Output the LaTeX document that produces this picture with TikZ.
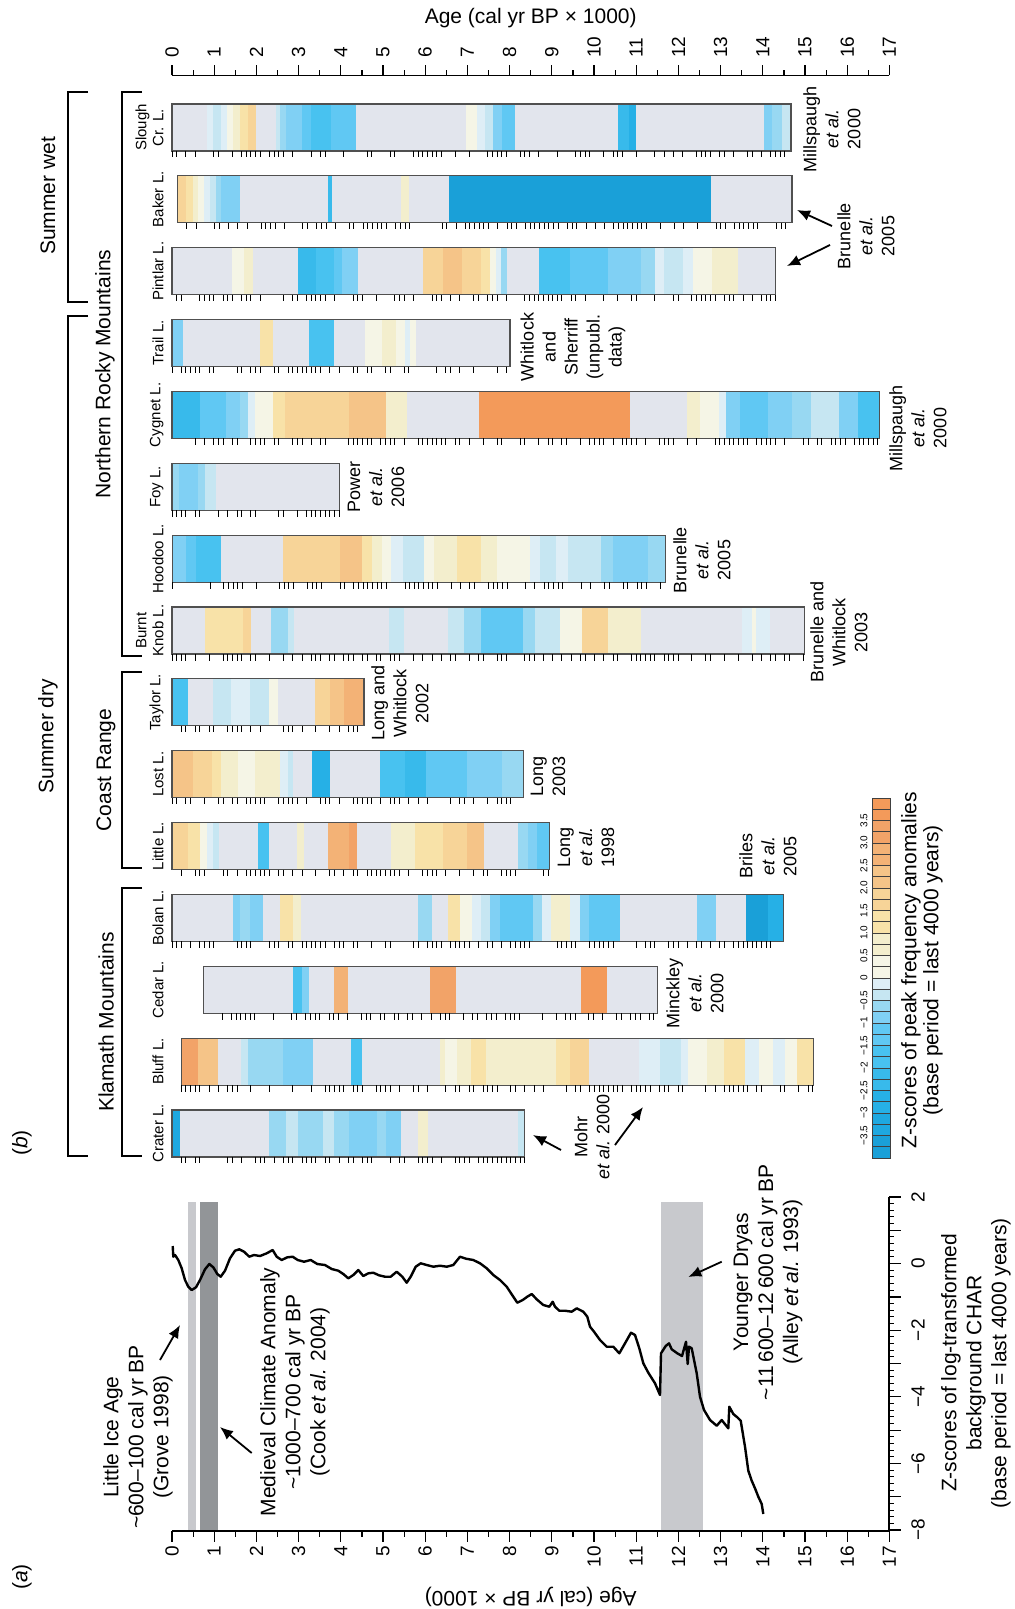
\documentclass[tikz,border=0pt]{standalone}
\usepackage{fontspec}
\setmainfont{Liberation Sans}
\usetikzlibrary{arrows.meta}
\definecolor{zg}{RGB}{226,229,237}
\definecolor{b8}{RGB}{26,160,216}
\definecolor{b7}{RGB}{30,168,224}
\definecolor{b6}{RGB}{38,176,230}
\definecolor{b5}{RGB}{56,186,235}
\definecolor{b4}{RGB}{72,194,240}
\definecolor{b3}{RGB}{96,200,243}
\definecolor{b2}{RGB}{128,208,244}
\definecolor{b1}{RGB}{152,216,242}
\definecolor{b0}{RGB}{198,230,242}
\definecolor{bw}{RGB}{222,238,246}
\definecolor{y0}{RGB}{245,245,230}
\definecolor{y1}{RGB}{243,238,205}
\definecolor{y2}{RGB}{248,226,168}
\definecolor{y3}{RGB}{247,212,152}
\definecolor{y4}{RGB}{245,196,136}
\definecolor{y5}{RGB}{243,178,118}
\definecolor{y6}{RGB}{242,163,104}
\definecolor{y7}{RGB}{243,154,90}
\definecolor{BandLight}{RGB}{200,201,205}
\definecolor{BandDark}{RGB}{146,149,152}
\definecolor{BarEdge}{RGB}{80,80,80}

% name, top (px), first age, last age, label, segments
\newcommand\lakebar[6]{%
  \fill[zg] (#3,#2) rectangle (#4,#2+47);
  \foreach \s/\e/\col in {#6} \fill[\col] (\s,#2) rectangle (\e,#2+47);
  \draw[BarEdge,line width=0.6pt] (#3,#2) rectangle (#4,#2+47);
  \pgfmathtruncatemacro\nk{(#4-#3)/0.11}
  \foreach \k in {0,...,\nk}{%
    \pgfmathsetmacro\rr{rnd}
    \ifdim\rr pt>0.4pt \draw[line width=0.45pt] ({#3+0.11*\k},#2+47) -- ++(0,6.5);\fi
  }
  \node[lakename] (#1) at (-0.19,#2+23.5) {#5};
}

\begin{document}
\begin{tikzpicture}[x=0.5pt,y=-0.5pt,>=Latex,
  lakename/.style={rotate=90,anchor=south,inner sep=0pt,align=center,font=\fontsize{7.5}{8.5}\selectfont},
  cite/.style={rotate=90,align=center,inner sep=0pt,font=\fontsize{9}{11}\selectfont},
  note/.style={rotate=90,align=center,inner sep=0pt,font=\fontsize{10.5}{12.5}\selectfont},
  group/.style={rotate=90,inner sep=0pt,font=\fontsize{10.5}{12.5}\selectfont},
  ticklab/.style={rotate=90,inner sep=0pt,font=\fontsize{9.5}{11}\selectfont},
  scalelab/.style={rotate=90,inner sep=0pt,font=\fontsize{5}{6}\selectfont},
  bracket/.style={line width=1.2pt},
  pointer/.style={-{Latex[length=6.5pt,width=5.5pt]},line width=0.9pt}]
\useasboundingbox (0,0) rectangle (1015,1609);
\pgfmathsetseed{11}

\begin{scope}[shift={(172,0)},x=21.1pt]
  % (b) age axis
  \node[font=\fontsize{10.5}{12}\selectfont] (agetop) at (8.5,18) {Age (cal yr BP × 1000)};
  \draw[line width=0.6pt] (0,75.5) -- (17,75.5);
  \foreach \i in {0,...,17}{
    \draw[line width=0.6pt] (\i,75.5) -- (\i,65.5);
    \node[ticklab,anchor=west] (top\i) at (\i,58) {\i};
  }
  \foreach \i in {0.5,1.5,...,16.5} \draw[line width=0.6pt] (\i,75.5) -- (\i,70.5);

  \lakebar{slough}{104}{0}{14.67}{Slough\\Cr. L.}{0.84/0.98/bw, 0.98/1.15/b0, 1.15/1.30/bw, 1.30/1.45/y0, 1.45/1.60/y1, 1.60/1.79/y2, 1.79/1.99/y3, 2.46/2.57/b0, 2.57/2.71/b1, 2.71/3.07/b2, 3.07/3.30/b3, 3.30/3.77/b4, 3.77/4.36/b3, 6.96/7.23/y0, 7.23/7.41/bw, 7.41/7.60/b0, 7.60/7.82/b2, 7.82/8.13/b3, 10.56/10.84/b5, 10.84/11.00/b6, 14.02/14.22/b2, 14.22/14.45/b1, 14.45/14.67/b0}
  \lakebar{baker}{175.9}{0.13}{14.69}{Baker L.}{0.13/0.33/y3, 0.33/0.50/y2, 0.50/0.61/y1, 0.61/0.75/y0, 0.75/0.89/bw, 0.89/1.04/b0, 1.04/1.15/b1, 1.15/1.62/b2, 3.70/3.79/b5, 5.42/5.62/y1, 6.56/12.77/b8}
  \lakebar{pintlar}{247.7}{0}{14.30}{Pintlar L.}{1.43/1.71/y0, 1.71/1.93/y1, 2.98/3.41/b5, 3.41/3.85/b4, 3.85/4.02/b3, 4.02/4.41/b2, 5.94/6.42/y3, 6.42/6.87/y4, 6.87/7.32/y3, 7.32/7.54/y2, 7.54/7.68/y0, 7.68/7.79/bw, 7.79/7.93/b1, 8.69/9.44/b4, 9.44/10.33/b3, 10.33/11.12/b2, 11.12/11.45/b1, 11.45/11.67/bw, 11.67/12.12/b0, 12.12/12.35/bw, 12.35/12.79/y0, 12.79/13.41/y1}
  \lakebar{trail}{319.6}{0}{8.01}{Trail L.}{0/0.25/b2, 2.08/2.40/y2, 3.25/3.83/b4, 4.57/4.97/y0, 4.97/5.31/y1, 5.31/5.53/y0, 5.53/5.64/bw, 5.64/5.78/y0}
  \lakebar{cygnet}{391.4}{0}{16.76}{Cygnet L.}{0/0.67/b5, 0.67/1.28/b3, 1.28/1.62/b2, 1.62/1.79/b1, 1.79/1.96/bw, 1.96/2.40/y0, 2.40/2.68/y2, 2.68/4.19/y3, 4.19/5.08/y4, 5.08/5.56/y1, 7.27/10.86/y7, 12.20/12.51/y1, 12.51/12.96/y0, 12.96/13.13/bw, 13.13/13.46/b2, 13.46/14.13/b3, 14.13/14.69/b2, 14.69/15.14/b1, 15.14/15.81/b0, 15.81/16.26/b2, 16.26/16.76/b4}
  \lakebar{foy}{463.3}{0}{3.97}{Foy L.}{0/0.17/b1, 0.17/0.61/b2, 0.61/0.78/b1, 0.78/1.04/b0}
  \lakebar{hoodoo}{535.1}{0.02}{11.70}{Hoodoo L.}{0.02/0.34/b2, 0.34/0.56/b3, 0.56/1.15/b4, 2.63/3.97/y3, 3.97/4.50/y4, 4.50/4.75/y2, 4.75/4.97/y1, 4.97/5.20/y0, 5.20/5.47/bw, 5.47/5.98/b0, 5.98/6.20/y0, 6.20/6.76/y1, 6.76/7.32/y2, 7.32/7.71/y1, 7.71/8.49/y0, 8.49/8.72/bw, 8.72/9.10/b0, 9.10/9.38/bw, 9.38/10.17/b0, 10.17/10.45/b1, 10.45/11.28/b2, 11.28/11.70/b1}
  \lakebar{burnt}{607}{0}{14.98}{Burnt\\Knob L.}{0.78/1.68/y2, 1.68/1.88/y3, 2.35/2.76/b1, 2.76/2.90/b0, 5.14/5.50/b0, 6.54/6.93/b0, 6.93/7.32/b1, 7.32/8.32/b3, 8.32/8.60/b1, 8.60/9.20/b0, 9.20/9.72/y0, 9.72/10.34/y3, 10.34/11.12/y1, 13.50/13.74/bw, 13.74/13.85/y0, 13.85/14.17/bw}
  \lakebar{taylor}{678.8}{0}{4.55}{Taylor L.}{0/0.39/b4, 0.98/1.40/b0, 1.40/1.84/bw, 1.84/2.29/b0, 2.29/2.51/y0, 3.39/3.74/y3, 3.74/4.08/y4, 4.08/4.55/y5}
  \lakebar{lost}{750.7}{0}{8.32}{Lost L.}{0/0.50/y4, 0.50/0.95/y3, 0.95/1.17/y2, 1.17/1.56/y1, 1.56/1.96/y0, 1.96/2.57/y1, 2.57/2.74/bw, 2.74/2.87/b0, 3.32/3.74/b6, 4.92/5.53/b4, 5.53/6.03/b5, 6.03/6.98/b3, 6.98/7.82/b2, 7.82/8.32/b1}
  \lakebar{little}{822.5}{0}{8.95}{Little L.}{0/0.39/y3, 0.39/0.67/y2, 0.67/0.84/y0, 0.84/0.97/bw, 0.97/1.12/b0, 2.04/2.29/b4, 2.96/3.13/y1, 3.69/4.19/y5, 4.19/4.38/y6, 5.20/5.75/y1, 5.75/6.42/y2, 6.42/6.98/y3, 6.98/7.39/y4, 8.21/8.44/b1, 8.44/8.66/b2, 8.66/8.95/b3}
  \lakebar{bolan}{894.4}{0}{14.49}{Bolan L.}{1.45/1.60/b2, 1.60/1.84/b1, 1.84/2.16/b2, 2.57/2.87/y2, 2.87/3.05/y1, 5.83/6.15/b1, 6.54/6.82/y2, 6.82/7.10/y0, 7.10/7.32/bw, 7.32/7.54/b0, 7.54/7.77/b2, 7.77/8.55/b3, 8.55/8.77/b1, 8.77/8.99/bw, 8.99/9.44/y1, 9.44/9.66/bw, 9.66/9.89/b2, 9.89/10.61/b3, 12.44/12.88/b2, 13.60/14.13/b8, 14.13/14.49/b6}
  \lakebar{cedar}{966.2}{0.75}{11.50}{Cedar L.}{2.87/3.07/b4, 3.07/3.25/b2, 3.84/4.17/y5, 6.11/6.74/y6, 9.69/10.31/y7}
  \lakebar{bluff}{1038.1}{0.22}{15.20}{Bluff L.}{0.22/0.61/y6, 0.61/1.08/y4, 1.64/1.79/b0, 1.79/2.63/b1, 2.63/3.33/b2, 4.25/4.50/b4, 6.34/6.48/y1, 6.48/6.76/y0, 6.76/7.09/y1, 7.09/7.43/y2, 7.43/9.10/y1, 9.10/9.44/y2, 9.44/9.89/y3, 11.07/11.56/bw, 11.56/12.07/b0, 12.07/12.23/bw, 12.23/12.68/y0, 12.68/13.07/y1, 13.07/13.58/y2, 13.58/13.91/bw, 13.91/14.25/y0, 14.25/14.53/bw, 14.53/14.80/y0, 14.80/15.20/y2}
  \lakebar{crater}{1109.9}{0}{8.36}{Crater L.}{0/0.19/b7, 2.31/2.71/b1, 2.71/2.98/b0, 2.98/3.58/b1, 3.58/3.85/b0, 3.85/4.19/b1, 4.19/4.86/b2, 4.86/5.08/b1, 5.08/5.42/b2, 5.83/6.07/y1, 8.20/8.36/b0}

  % (a) shaded periods and age axis
  \fill[BandLight] (0.37,1202) rectangle (0.57,1531);
  \fill[BandDark] (0.66,1202) rectangle (1.10,1531);
  \fill[BandLight] (11.59,1202) rectangle (12.58,1531);
  \draw[line width=0.6pt] (0,1531) -- (17,1531);
  \foreach \i in {0,...,17}{
    \draw[line width=0.6pt] (\i,1531) -- (\i,1542);
    \node[ticklab,anchor=east] (bot\i) at (\i,1546) {\i};
  }
  \foreach \i in {0.5,1.5,...,16.5} \draw[line width=0.6pt] (\i,1531) -- (\i,1537);
  \node[rotate=180,font=\fontsize{10.5}{12}\selectfont] (agebot) at (8.5,1597) {Age (cal yr BP × 1000)};
\end{scope}

% citations
\node[cite] (millspaughA) at (832,129) {Millspaugh\\\textit{et al.}\\2000};
\node[cite] (brunelleA) at (866,236) {Brunelle\\\textit{et al.}\\2005};
\coordinate (bakerTail) at (832,226);
\coordinate (bakerTip) at (797,210);
\coordinate (pintlarTail) at (830,245);
\coordinate (pintlarTip) at (787,266);
\draw[pointer] (bakerTail) -- (bakerTip);
\draw[pointer] (pintlarTail) -- (pintlarTip);
\node[cite] (whitlock) at (573,347) {Whitlock\\and\\Sherriff\\(unpubl.\\data)};
\node[cite] (millspaughB) at (918,428) {Millspaugh\\\textit{et al.}\\2000};
\node[cite] (power) at (376,487) {Power\\\textit{et al.}\\2006};
\node[cite] (brunelleB) at (702,560) {Brunelle\\\textit{et al.}\\2005};
\node[cite] (brunelleC) at (839,632) {Brunelle and\\Whitlock\\2003};
\node[cite] (longA) at (400,703) {Long and\\Whitlock\\2002};
\node[cite] (longB) at (548,776) {Long\\2003};
\node[cite] (longC) at (586,847) {Long\\\textit{et al.}\\1998};
\node[cite] (briles) at (768,856) {Briles\\\textit{et al.}\\2005};
\node[cite] (minckley) at (695,993) {Minckley\\\textit{et al.}\\2000};
\node[cite] (mohr) at (592,1137) {Mohr\\\textit{et al.} 2000};
\coordinate (mohrA) at (561,1150);
\coordinate (craterTip) at (533,1135);
\coordinate (mohrB) at (615,1145);
\coordinate (bluffTip) at (643,1107);
\draw[pointer] (mohrA) -- (craterTip);
\draw[pointer] (mohrB) -- (bluffTip);

% groups
\draw[bracket] (88,92) -- (68,92) -- (68,302) -- (88,302);
\node[group] (wet) at (48,196) {Summer wet};
\draw[bracket] (88,316) -- (68,316) -- (68,1156) -- (88,1156);
\node[group] (dry) at (48,736) {Summer dry};
\draw[bracket] (142,92) -- (122,92) -- (122,656) -- (142,656);
\node[group] (rocky) at (105,374) {Northern Rocky Mountains};
\draw[bracket] (142,672) -- (122,672) -- (122,868) -- (142,868);
\node[group] (coast) at (106,770) {Coast Range};
\draw[bracket] (142,888) -- (122,888) -- (122,1156) -- (142,1156);
\node[group] (klamath) at (106,1022) {Klamath Mountains};
\node[group] (panelb) at (22,1143) {(\textit{b})};

% colour scale
\foreach \col [count=\i from 0] in {b8,b8,b7,b7,b6,b6,b5,b5,b4,b4,b3,b3,b2,b1,b0,bw,y0,y0,y1,y1,y2,y2,y3,y3,y4,y4,y5,y5,y6,y6,y7,y7}
  \filldraw[fill=\col,draw=black!75,line width=0.4pt] (872,{1158-11.25*\i}) rectangle (890,{1146.75-11.25*\i});
\foreach \z/\lab in {-3.5/−3.5,-3/−3,-2.5/−2.5,-2/−2,-1.5/−1.5,-1/−1,-0.5/−0.5,0/0,0.5/0.5,1/1.0,1.5/1.5,2/2.0,2.5/2.5,3/3.0,3.5/3.5}
  \node[scalelab] at (864,{978-45*(\z)}) {\lab};
\node[note,font=\fontsize{10.5}{11}\selectfont] (scaletitle) at (922,970) {Z-scores of peak frequency anomalies\\(base period = last 4000 years)};

% (a) CHAR curve and z axis
\draw[line width=0.6pt] (889,1197) -- (889,1531);
\foreach \z in {-8,...,2} \draw[line width=0.6pt] (889,{1263.6-33.3*(\z)}) -- ++(12,0);
\foreach \k in {0,...,50} \draw[line width=0.5pt] (889,{1197+6.66*\k}) -- ++(5,0);
\foreach \z/\lab in {2/2,0/0,-2/−2,-4/−4,-6/−6,-8/−8}
  \node[ticklab] at (918,{1263.6-33.3*(\z)}) {\lab};
\node[note] (zaxis) at (976,1363) {Z-scores of log-transformed\\background CHAR\\(base period = last 4000 years)};
\draw[line width=1.2pt,line join=round] plot coordinates {
  (172.7,1246) (173.3,1256.7) (175,1255) (178.3,1260) (181.7,1268.3) (185,1280)
  (188.3,1286.7) (191.7,1290) (196,1287.3) (200,1280) (205,1269.3) (209.3,1264)
  (213.3,1267.3) (217.3,1274) (220.7,1276.7) (225,1270.7) (230,1258.3) (235,1250.7)
  (239.3,1249.3) (244,1251.7) (249.3,1256.7) (254,1255) (260,1256) (266.7,1253.3)
  (272.7,1250) (276.7,1256.7) (281.7,1260) (287.3,1257.3) (292.7,1256.7) (297.7,1260)
  (304,1261.7) (310.7,1260) (317.3,1264) (325,1265) (331.7,1269) (338.3,1270.7)
  (343.3,1274) (348.3,1278.3) (353.3,1275) (358.3,1270) (363.3,1276) (368.3,1273.3)
  (373.3,1272.7) (379,1275.3) (385,1276.7) (390.7,1276.7) (396.7,1271.7) (402.3,1276.7)
  (406.7,1282.7) (410.7,1276.7) (415.7,1266.7) (420.7,1263.3) (426.7,1265) (433.3,1266.7)
  (440,1265.7) (446.7,1266.7) (453.3,1265) (460,1256.7) (466,1258.7) (473.3,1260)
  (480,1263.3) (486.7,1268.3) (493.3,1275) (500,1280) (506.7,1286.7) (513.3,1296.7)
  (517.3,1302.7) (522.7,1300) (527.3,1296.7) (531.7,1294) (536.7,1299.3) (543.3,1305)
  (549.3,1306.7) (552.7,1301.7) (555,1306.7) (559.3,1310.7) (565,1310.7) (571.7,1311.7)
  (576.7,1308.3) (583.3,1311.7) (587.3,1316.7) (590,1326.7) (594,1331.7) (600,1340)
  (606.7,1346.7) (613.3,1346.7) (619.3,1353.3) (625,1343.3) (631,1332.7) (635,1335)
  (639.3,1348.3) (643.3,1363.3) (648.3,1372.7) (655,1383.3) (660,1395) (661,1353.3)
  (665.7,1346) (669,1343.3) (671.7,1349.3) (677.3,1353.3) (682,1356) (686,1341.7)
  (687.7,1364) (689,1346.7) (691.7,1348.3) (696.7,1373.3) (700,1396.7) (704,1410)
  (710,1420) (716.7,1425.7) (721.7,1420) (728.3,1428.3) (729.3,1406.7) (733.3,1414)
  (737.3,1417.3) (740.7,1420.7) (745,1446.7) (748.3,1470.7) (751.7,1480.7) (755,1488.3)
  (758.3,1496.7) (761.7,1504) (763.3,1514)};

% (a) period labels
\node[note] (lia) at (138,1437) {Little Ice Age\\\textasciitilde 600–100 cal yr BP\\(Grove 1998)};
\coordinate (liaTail) at (160,1360);
\coordinate (liaTip) at (180,1325);
\draw[pointer] (liaTail) -- (liaTip);
\node[note] (mca) at (295,1392) {Medieval Climate Anomaly\\\textasciitilde 1000–700 cal yr BP\\(Cook \textit{et al.} 2004)};
\coordinate (mcaTail) at (251.7,1453);
\coordinate (mcaTip) at (220,1427);
\draw[pointer] (mcaTail) -- (mcaTip);
\node[note] (yd) at (768,1282) {Younger Dryas\\\textasciitilde 11\,600–12\,600 cal yr BP\\(Alley \textit{et al.} 1993)};
\coordinate (ydTail) at (721.7,1261.7);
\coordinate (ydTip) at (688.3,1277);
\draw[pointer] (ydTail) -- (ydTip);
\node[group] (panela) at (22,1577) {(\textit{a})};
\end{tikzpicture}
\end{document}
